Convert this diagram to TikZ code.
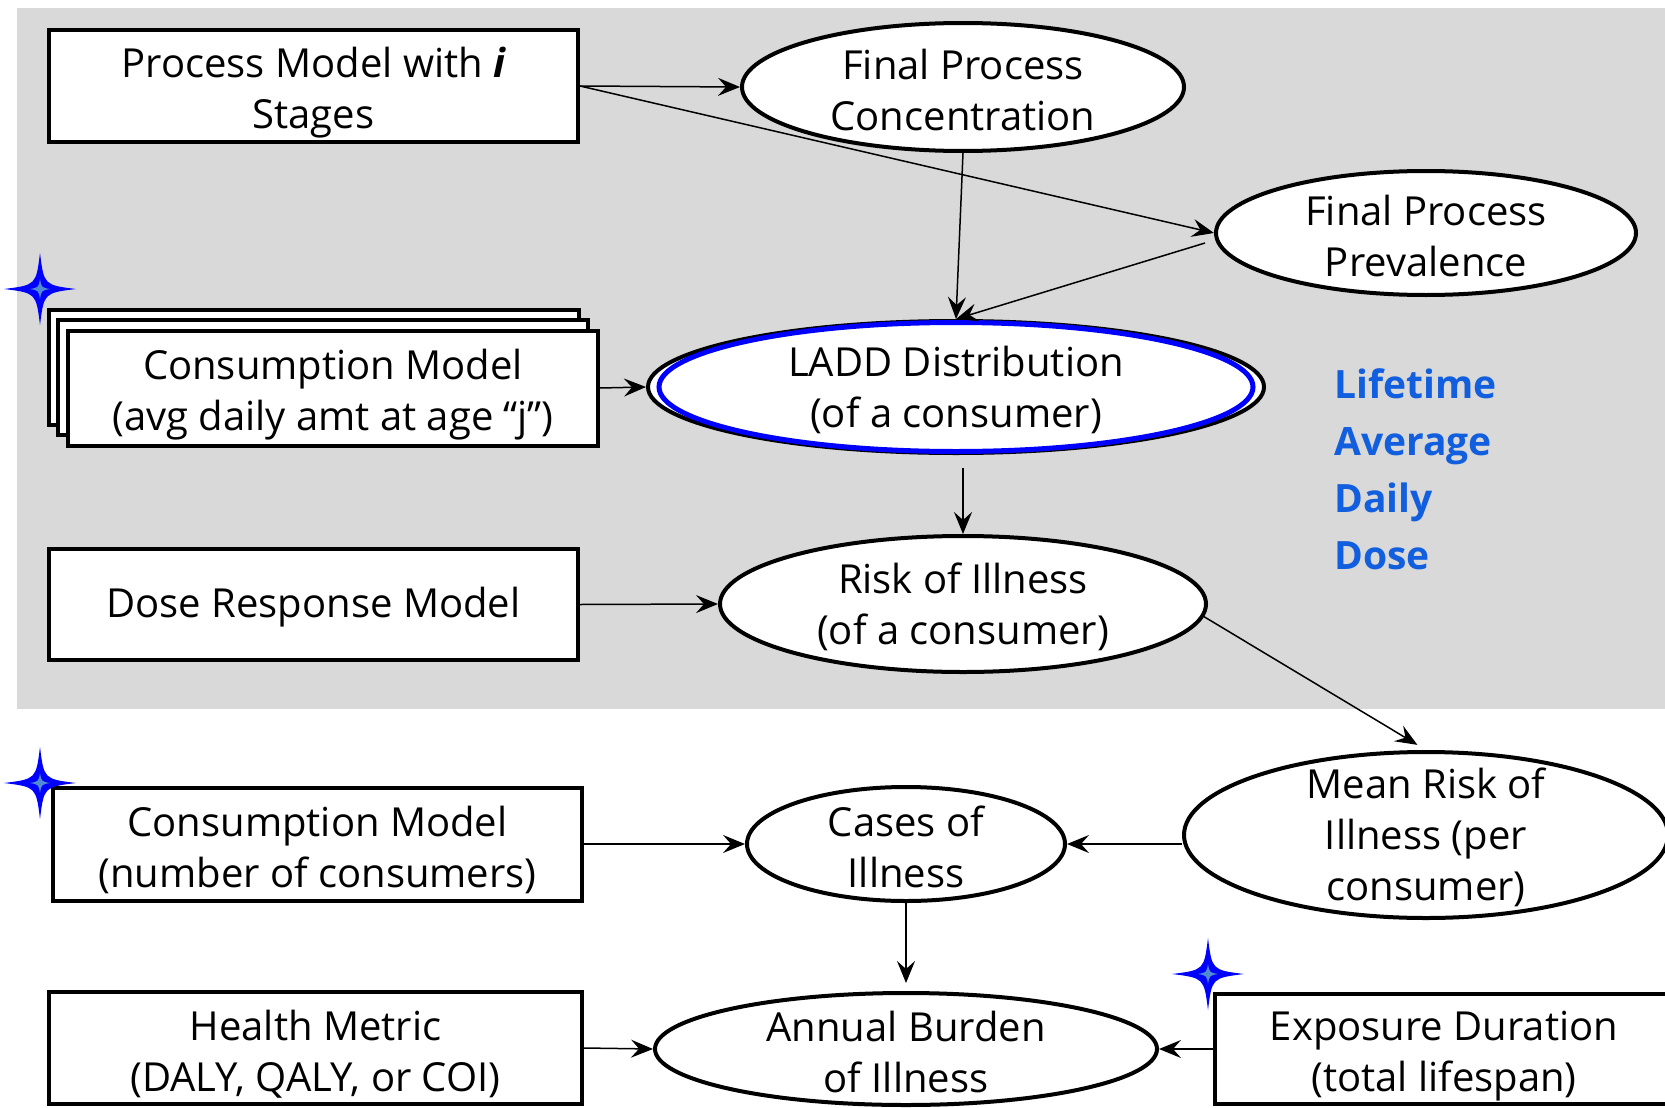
\documentclass[tikz,border=0pt]{standalone}
\usepackage{fontspec}
\setmainfont{Open Sans}
\usetikzlibrary{shapes.geometric,arrows.meta}
\definecolor{bg}{RGB}{217,217,217}
\definecolor{ldblue}{RGB}{17,94,222}
\definecolor{starblue}{RGB}{0,0,255}
\definecolor{starcore}{RGB}{80,140,210}
\newcommand\fsz{\fontsize{40}{51}\selectfont}
\newcommand\bs{\rule{0pt}{43pt}}
\newcommand\os{\rule{0pt}{36pt}}
\begin{document}
\begin{tikzpicture}[x=1pt,y=-1pt,
  box/.style={draw,line width=4pt,fill=white,rectangle,inner sep=0pt,align=center,font=\fsz},
  oval/.style={draw,line width=4pt,fill=white,ellipse,inner xsep=-10pt,inner ysep=-20pt,align=center,font=\fsz},
  arr/.style={-{Stealth[length=22pt,width=18pt,inset=8pt]},line width=1.5pt},
  fourstar/.pic={
    \fill[starblue] (0,-36) .. controls (4,-4) .. (36,0) .. controls (4,4) .. (0,36)
      .. controls (-4,4) .. (-36,0) .. controls (-4,-4) .. (0,-36) -- cycle;
    \fill[starcore] (0,-10) .. controls (1.5,-1.5) .. (10,0) .. controls (1.5,1.5) .. (0,10)
      .. controls (-1.5,1.5) .. (-10,0) .. controls (-1.5,-1.5) .. (0,-10) -- cycle;
  }
]
\useasboundingbox (0,0) rectangle (1665,1108);
\clip (0,0) rectangle (1665,1108);
\fill[white] (0,0) rectangle (1665,1108);
\fill[bg] (17,8) rectangle (1665,709);

% top region
\node[box,minimum width=529pt,minimum height=112pt] (pm) at (313.5,86) {\bs Process Model with {\bfseries\itshape i}\\Stages};
\node[oval,minimum width=442pt,minimum height=128pt] (conc) at (963,87) {\os Final Process\\Concentration};
\node[oval,minimum width=420pt,minimum height=124pt] (prev) at (1426,233) {\os Final Process\\Prevalence};

\node[box,minimum width=530pt,minimum height=115pt] (cback) at (314,367) {};
\node[box,minimum width=530pt,minimum height=115pt] (cmid) at (323,377) {};
\node[box,minimum width=530pt,minimum height=115pt] (cfront) at (333,388) {\bs Consumption Model\\(avg daily amt at age “j”)};

\node[oval,minimum width=616pt,minimum height=132pt] (ladd) at (956,387) {\os LADD Distribution\\(of a consumer)};
\draw[starblue,line width=5pt] (ladd.center) ellipse [x radius=297pt, y radius=64.5pt];

\node[box,minimum width=529pt,minimum height=111pt] (dose) at (313.5,604.5) {\os Dose Response Model};
\node[oval,minimum width=486pt,minimum height=136pt] (risk) at (963,604) {\os Risk of Illness\\(of a consumer)};

\node[anchor=west,align=left,text=ldblue,font=\fontsize{39}{57}\selectfont\bfseries,inner sep=0pt] (lad) at (1334,469) {Lifetime\\Average\\Daily\\Dose};

% bottom region
\node[oval,minimum width=484pt,minimum height=166pt] (mean) at (1426,835) {\os Mean Risk of\\Illness (per\\consumer)};
\node[oval,minimum width=318pt,minimum height=114pt] (cases) at (906,844) {\os Cases of\\Illness};
\node[box,minimum width=529pt,minimum height=113pt] (cons2) at (317.5,844) {\bs Consumption Model\\(number of consumers)};

\node[box,minimum width=533pt,minimum height=112pt] (health) at (315.5,1048) {\bs Health Metric\\(DALY, QALY, or COI)};
\node[oval,minimum width=502pt,minimum height=112pt] (annual) at (906,1049) {\os Annual Burden\\of Illness};
\node[box,minimum width=458pt,minimum height=110pt] (expo) at (1444,1049) {\bs Exposure Duration\\(total lifespan)};

% stars
\pic at (40,289) {fourstar};
\pic at (40,783) {fourstar};
\pic at (1208,974) {fourstar};

% connectors
\draw[arr] (pm.east) -- (conc.west);
\draw[arr] (pm.east) -- (prev.west);
\draw[arr] (conc.south) -- (ladd.north);
\draw[arr] ([xshift=-9pt,yshift=-10pt]prev.west) -- (ladd.north);
\draw[arr] (cfront.east) -- (ladd.west);
\coordinate (laddout) at ([yshift=-13pt]ladd.south);
\draw[arr] (laddout -| risk.north) -- (risk.north);
\draw[arr] (dose.east) -- (risk.west);
\draw[arr,shorten >=10pt] (risk.-3) -- (mean.north);
\draw[arr] (mean.west |- cases.east) -- (cases.east);
\draw[arr] (cons2.east) -- (cases.west);
\draw[arr,shorten >=8pt] (cases.south) -- (annual.north);
\draw[arr] (health.east) -- (annual.west);
\draw[arr] (expo.west) -- (annual.east);
\end{tikzpicture}
\end{document}
